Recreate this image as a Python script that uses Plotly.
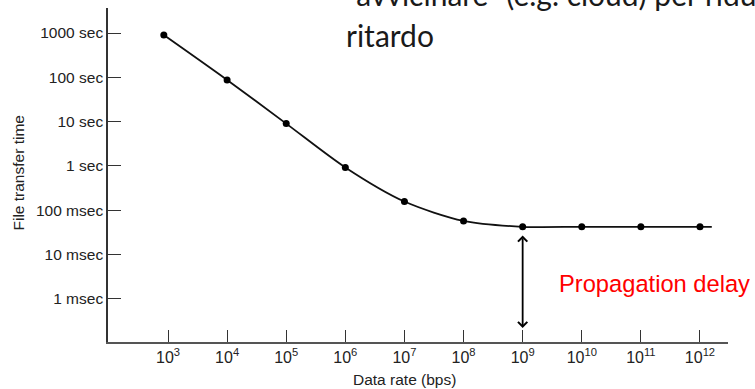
import math
import plotly.graph_objects as go

# ---- data ----
data_rates = [850, 1e4, 1e5, 1e6, 1e7, 1e8, 1e9, 1e10, 1e11, 1e12]          # bps
transfer_times = [900, 87, 9.0, 0.92, 0.156, 0.057, 0.042, 0.042, 0.042, 0.042]  # seconds
line_end_rate = 10 ** 12.2   # the curve continues slightly past the last point

x_tick_vals = [1e3, 1e4, 1e5, 1e6, 1e7, 1e8, 1e9, 1e10, 1e11, 1e12]
x_tick_text = ["10<sup>%d</sup>" % e for e in range(3, 13)]
y_tick_vals = [1e-3, 1e-2, 1e-1, 1, 10, 100, 1000]
y_tick_text = ["1 msec", "10 msec", "100 msec", "1 sec", "10 sec", "100 sec", "1000 sec"]

propagation_rate = data_rates[6]
propagation_label = "Propagation delay"
slide_line1 = "\u201cavvicinare\u201d (e.g. cloud) per ridurre il"
slide_line2 = "ritardo"

W, H = 755, 389
L, R, T, B = 108, 27, 8, 47
plot_h = H - T - B
plot_w = W - L - R

AX_FONT = "Liberation Sans, Arial, sans-serif"
fig = go.Figure()

fig.add_trace(go.Scatter(
    x=data_rates + [line_end_rate],
    y=transfer_times + [transfer_times[-1]],
    mode="lines",
    line=dict(color="#111111", width=1.8, shape="spline", smoothing=0.8),
    hoverinfo="skip", showlegend=False,
))
fig.add_trace(go.Scatter(
    x=data_rates, y=transfer_times, mode="markers",
    marker=dict(color="#000000", size=7),
    showlegend=False,
))

# double-headed arrow marking the propagation delay
bottom_px = 328
top_px = 234
fig.add_annotation(
    x=math.log10(propagation_rate), xref="x",
    y=(H - B - bottom_px) / plot_h, yref="paper",
    ax=0, ay=-(bottom_px - top_px),
    text="", showarrow=True, arrowhead=4, startarrowhead=4,
    arrowside="end+start", arrowwidth=1.8, arrowsize=1, startarrowsize=1,
    arrowcolor="#000000",
)
fig.add_annotation(
    x=(557 - L) / plot_w, xref="paper",
    y=(H - B - 284) / plot_h, yref="paper",
    text=propagation_label, showarrow=False, xanchor="left", yanchor="middle",
    font=dict(family=AX_FONT, size=23.7, color="#ff0000"),
)

# axis titles
fig.add_annotation(
    x=(404.5 - L) / plot_w, xref="paper",
    y=(H - B - 380) / plot_h, yref="paper",
    text="Data rate (bps)", showarrow=False, xanchor="center", yanchor="middle",
    font=dict(family=AX_FONT, size=15.5, color="#222222"),
)
fig.add_annotation(
    x=(18.5 - L) / plot_w, xref="paper",
    y=(H - B - 173) / plot_h, yref="paper",
    text="File transfer time", textangle=-90, showarrow=False,
    xanchor="center", yanchor="middle",
    font=dict(family=AX_FONT, size=15.5, color="#222222"),
)

# slide text overlapping the figure
SLIDE_FONT = "Lato, Carlito, Calibri, sans-serif"
fig.add_annotation(
    x=(344 - L) / plot_w, xref="paper",
    y=(H - B + 6) / plot_h, yref="paper",
    text=slide_line1, showarrow=False, xanchor="left", yanchor="middle",
    font=dict(family=SLIDE_FONT, size=30, color="#1a1a1a"),
)
fig.add_annotation(
    x=(344 - L) / plot_w, xref="paper",
    y=(H - B - 35) / plot_h, yref="paper",
    text=slide_line2, showarrow=False, xanchor="left", yanchor="middle",
    font=dict(family=SLIDE_FONT, size=30, color="#1a1a1a"),
)

fig.update_layout(
    width=W, height=H,
    margin=dict(l=L, r=R, t=T, b=B, pad=0),
    paper_bgcolor="white", plot_bgcolor="white",
    showlegend=False,
    font=dict(family=AX_FONT, size=15, color="#222222"),
    xaxis=dict(
        type="log", range=[1.985, 12.474],
        tickmode="array", tickvals=x_tick_vals, ticktext=x_tick_text,
        ticks="inside", ticklen=12, tickwidth=1, tickcolor="#333333",
        showline=True, linecolor="#555555", linewidth=1.5,
        showgrid=False, zeroline=False,
        tickfont=dict(family=AX_FONT, size=16, color="#222222"),
    ),
    yaxis=dict(
        type="log", range=[-3.98, 3.566],
        tickmode="array", tickvals=y_tick_vals, ticktext=y_tick_text,
        ticks="inside", ticklen=13, tickwidth=1, tickcolor="#333333",
        showline=True, linecolor="#333333", linewidth=1.5,
        showgrid=False, zeroline=False,
        tickfont=dict(family=AX_FONT, size=15.5, color="#222222"),
    ),
)

fig.write_html(
    "out.html",
    config={"displayModeBar": False},
    post_script="document.body.style.margin='0';document.body.style.overflow='hidden';",
)
